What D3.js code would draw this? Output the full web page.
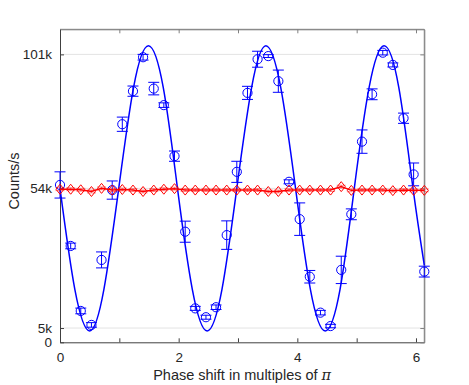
<!DOCTYPE html>
<html>
<head>
<meta charset="utf-8">
<script src="https://cdn.jsdelivr.net/npm/d3@7"></script>
<style>
  body { margin: 0; background: #fff; }
  text { font-family: "Liberation Sans", Arial, sans-serif; fill: #262626; }
</style>
</head>
<body>
<div id="chart"></div>
<script>
// phase shift (multiples of pi) for every measured point
var phase = [0, 0.18, 0.35, 0.53, 0.70, 0.88, 1.05, 1.23, 1.40, 1.58, 1.75, 1.93,
             2.11, 2.28, 2.46, 2.63, 2.81, 2.98, 3.16, 3.33, 3.51, 3.68, 3.86, 4.04,
             4.21, 4.39, 4.56, 4.74, 4.91, 5.09, 5.26, 5.44, 5.61, 5.79, 5.96, 6.14];

// blue series, counts/s and its error
var blueCounts = [55200, 33800, 11000, 6100, 28900, 53400, 76500, 88100, 100000, 89000, 83200, 65300,
                  38800, 11900, 8800, 12300, 37600, 59800, 87500, 99300, 100400, 91600, 56300, 43200,
                  23000, 10400, 5700, 25400, 44900, 70400, 87000, 101600, 97300, 78600, 58900, 24800];
var blueErr = [4600, 1000, 1000, 800, 2800, 3200, 2500, 1800, 1000, 2200, 800, 1800,
               3700, 700, 700, 800, 5000, 3700, 2300, 2800, 500, 3900, 700, 5700,
               2200, 800, 600, 4800, 1900, 4100, 1900, 800, 700, 1800, 4000, 1900];

// red series, counts/s and its error
var redCounts = [53700, 53700, 53500, 52900, 54000, 53400, 53600, 53400, 52900, 53400, 53700, 53900,
                 53400, 53400, 53400, 53400, 53400, 53400, 53400, 53400, 52900, 52900, 53400, 53400,
                 53400, 53400, 53400, 54600, 53300, 53400, 53400, 53400, 53200, 53400, 53300, 53300];
var redErr = 500;

// fitted curve
var fitPhase = [0, 0.25, 0.50, 0.74, 0.99, 1.24, 1.49, 1.74, 1.98, 2.23, 2.48, 2.73, 2.98,
                3.23, 3.47, 3.72, 3.97, 4.22, 4.47, 4.72, 4.96, 5.21, 5.46, 5.71, 5.95, 6.14];
var fitCounts = [54000, 18600, 4000, 18600, 54000, 89400, 104000, 89400, 54000, 18600, 4000, 18600, 54000,
                 89400, 104000, 89400, 54000, 18600, 4000, 18600, 54000, 89400, 104000, 89400, 54000, 27000];

// ticks
var xTicks = [0, 1, 2, 3, 4, 5, 6];
var xTickLabels = ["0", "", "2", "", "4", "", "6"];
var yTicks = [0, 5000, 54000, 101000];
var yTickLabels = ["0", "5k", "54k", "101k"];

var W = 469, H = 385;
var margin = { top: 29.3, right: 44.7, bottom: 42.7, left: 60 };
var width = W - margin.left - margin.right;
var height = H - margin.top - margin.bottom;

var svg = d3.select("#chart").append("svg")
    .attr("width", W)
    .attr("height", H);

var g = svg.append("g")
    .attr("transform", "translate(" + margin.left + "," + margin.top + ")");

var x = d3.scaleLinear().domain([0, 6.14]).range([0, width]);
var y = d3.scaleLinear().domain([0, 109800]).range([height, 0]);

var blue = "#0000ff", red = "#ff0000";

// horizontal grid
g.selectAll(".grid")
    .data(yTicks.slice(1))
    .enter().append("line")
    .attr("x1", 0).attr("x2", width)
    .attr("y1", function (d) { return y(d); })
    .attr("y2", function (d) { return y(d); })
    .attr("stroke", "#e3e3e3")
    .attr("stroke-width", 1);

// box: top and right
g.append("line").attr("x1", 0).attr("x2", width).attr("y1", 0).attr("y2", 0)
    .attr("stroke", "#a0a0a0").attr("stroke-width", 1.2);
g.append("line").attr("x1", width).attr("x2", width).attr("y1", 0).attr("y2", height)
    .attr("stroke", "#a0a0a0").attr("stroke-width", 1.2);

// axes, inward ticks
var xAxis = d3.axisBottom(x).tickValues(xTicks).tickSizeInner(-4).tickSizeOuter(0).tickPadding(10)
    .tickFormat(function (d, i) { return xTickLabels[i]; });
var xTop = d3.axisTop(x).tickValues(xTicks).tickSizeInner(-4).tickSizeOuter(0).tickFormat("");
var yAxis = d3.axisLeft(y).tickValues(yTicks).tickSizeInner(-4).tickSizeOuter(0).tickPadding(8)
    .tickFormat(function (d, i) { return yTickLabels[i]; });
var yRight = d3.axisRight(y).tickValues(yTicks).tickSizeInner(-4).tickSizeOuter(0).tickFormat("");

function styleAxis(sel, col) {
    sel.select(".domain").attr("stroke", col).attr("stroke-width", 1);
    sel.selectAll(".tick line").attr("stroke", col);
    sel.selectAll(".tick text").style("font-size", "13.5px").attr("fill", "#262626")
        .style("font-family", "'Liberation Sans', Arial, sans-serif");
}

g.append("g").attr("transform", "translate(0," + height + ")").call(xAxis).call(styleAxis, "#404040");
g.append("g").call(xTop).call(styleAxis, "#808080");
g.append("g").call(yAxis).call(styleAxis, "#404040");
g.append("g").attr("transform", "translate(" + width + ",0)").call(yRight).call(styleAxis, "#808080");

var plot = g.append("g");

// fit curve
var fitLine = d3.line()
    .x(function (d, i) { return x(fitPhase[i]); })
    .y(function (d) { return y(d); })
    .curve(d3.curveNatural);

plot.append("path")
    .datum(fitCounts)
    .attr("d", fitLine)
    .attr("fill", "none")
    .attr("stroke", blue)
    .attr("stroke-width", 1.5);

// blue error bars
var capW = 5.5;
var blueBars = plot.selectAll(".bbar")
    .data(blueCounts)
    .enter().append("g")
    .attr("stroke", blue)
    .attr("stroke-width", 1);

blueBars.append("line")
    .attr("x1", function (d, i) { return x(phase[i]); })
    .attr("x2", function (d, i) { return x(phase[i]); })
    .attr("y1", function (d, i) { return y(d - blueErr[i]); })
    .attr("y2", function (d, i) { return y(d + blueErr[i]); });
blueBars.append("line")
    .attr("x1", function (d, i) { return x(phase[i]) - capW; })
    .attr("x2", function (d, i) { return x(phase[i]) + capW; })
    .attr("y1", function (d, i) { return y(d - blueErr[i]); })
    .attr("y2", function (d, i) { return y(d - blueErr[i]); });
blueBars.append("line")
    .attr("x1", function (d, i) { return x(phase[i]) - capW; })
    .attr("x2", function (d, i) { return x(phase[i]) + capW; })
    .attr("y1", function (d, i) { return y(d + blueErr[i]); })
    .attr("y2", function (d, i) { return y(d + blueErr[i]); });

blueBars.append("circle")
    .attr("cx", function (d, i) { return x(phase[i]); })
    .attr("cy", function (d) { return y(d); })
    .attr("r", 4.6)
    .attr("fill", "none");

// red line, error caps and diamonds
var redLine = d3.line()
    .x(function (d, i) { return x(phase[i]); })
    .y(function (d) { return y(d); });

plot.append("path")
    .datum(redCounts)
    .attr("d", redLine)
    .attr("fill", "none")
    .attr("stroke", red)
    .attr("stroke-width", 1.5);

var redBars = plot.selectAll(".rbar")
    .data(redCounts)
    .enter().append("g")
    .attr("stroke", red)
    .attr("stroke-width", 1);

redBars.append("path")
    .attr("stroke-opacity", 0.45)
    .attr("d", function (d, i) {
        var cx = x(phase[i]), lo = y(d - redErr), hi = y(d + redErr);
        return "M" + (cx - 4.5) + "," + lo + "H" + (cx + 4.5) +
            "M" + (cx - 4.5) + "," + hi + "H" + (cx + 4.5) +
            "M" + cx + "," + lo + "V" + hi;
    });

redBars.append("path")
    .attr("fill", "none")
    .attr("d", function (d, i) {
        var cx = x(phase[i]), cy = y(d);
        return "M" + cx + "," + (cy - 5) + "L" + (cx + 4) + "," + cy +
            "L" + cx + "," + (cy + 5) + "L" + (cx - 4) + "," + cy + "Z";
    });

// axis titles
var xTitle = svg.append("text")
    .attr("x", margin.left + width / 2)
    .attr("y", 380)
    .attr("text-anchor", "middle")
    .style("font-size", "14.5px");
xTitle.append("tspan").text("Phase shift in multiples of ");
xTitle.append("tspan").text("\u03c0")
    .style("font-family", "'DejaVu Serif', 'Liberation Serif', serif")
    .style("font-style", "italic");

svg.append("text")
    .attr("transform", "translate(19,181) rotate(-90)")
    .attr("text-anchor", "middle")
    .style("font-size", "14.5px")
    .text("Counts/s");
</script>
</body>
</html>
